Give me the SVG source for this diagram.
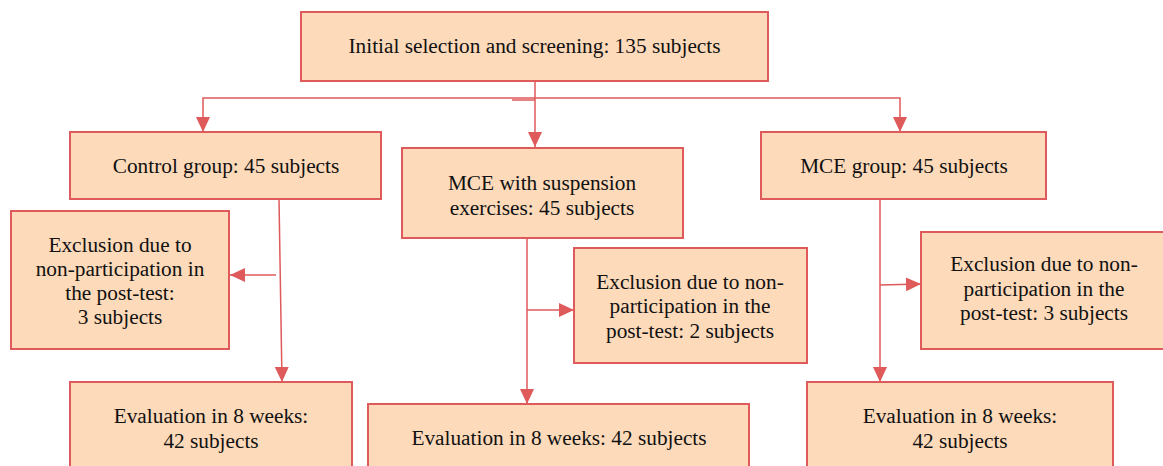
<svg xmlns="http://www.w3.org/2000/svg" width="1163" height="466" viewBox="0 0 1163 466">
<defs>
<marker id="ah" markerUnits="userSpaceOnUse" markerWidth="16" markerHeight="16" viewBox="0 0 16 16" refX="15" refY="8" orient="auto">
<path d="M0,1 L15,8 L0,15 Z" fill="#DF5A5B"/>
</marker>
</defs>
<rect width="1163" height="466" fill="#fff"/>
<g id="connectors" fill="none" stroke="#DF5A5B" stroke-width="1.5">
<path d="M535,81 V98 H203 V132" marker-end="url(#ah)"/>
<path d="M535,98 V147" marker-end="url(#ah)"/>
<path d="M535,98 H900 V132" marker-end="url(#ah)"/>
<path d="M512,100 H535"/>
<path d="M279,199 L282,382" marker-end="url(#ah)"/>
<path d="M276,275 H230" marker-end="url(#ah)"/>
<path d="M527,238 V404" marker-end="url(#ah)"/>
<path d="M527,310 H574" marker-end="url(#ah)"/>
<path d="M880,199 V382" marker-end="url(#ah)"/>
<path d="M880,285 L921,284" marker-end="url(#ah)"/>
</g>
<g id="nodes" fill="#FDDABA" stroke="#DF5A5B" stroke-width="2">
<g id="n-initial"><rect x="301" y="12" width="467" height="69"/></g>
<g id="n-control"><rect x="70" y="132" width="311" height="67"/></g>
<g id="n-mcesusp"><rect x="402" y="148" width="281" height="90"/></g>
<g id="n-mce"><rect x="761" y="132" width="285" height="67"/></g>
<g id="n-excl-left"><rect x="11" y="211" width="218" height="138"/></g>
<g id="n-excl-mid"><rect x="574" y="248" width="233" height="115"/></g>
<g id="n-excl-right"><rect x="921" y="232" width="245" height="117"/></g>
<g id="n-eval-left"><rect x="70" y="382" width="282" height="90"/></g>
<g id="n-eval-mid"><rect x="368" y="404" width="381" height="70"/></g>
<g id="n-eval-right"><rect x="807" y="382" width="306" height="90"/></g>
</g>
<g id="labels" font-family="Liberation Serif" font-size="21.3" text-anchor="middle" fill="#111">
<text font-family="Liberation Serif" x="534.5" y="53">Initial selection and screening: 135 subjects</text>
<text font-family="Liberation Serif" x="226" y="173">Control group: 45 subjects</text>
<text font-family="Liberation Serif" x="542" y="190">MCE with suspension</text>
<text font-family="Liberation Serif" x="542" y="215">exercises: 45 subjects</text>
<text font-family="Liberation Serif" x="904" y="173">MCE group: 45 subjects</text>
<text font-family="Liberation Serif" x="120" y="252">Exclusion due to</text>
<text font-family="Liberation Serif" x="120" y="276">non-participation in</text>
<text font-family="Liberation Serif" x="120" y="300">the post-test:</text>
<text font-family="Liberation Serif" x="120" y="324">3 subjects</text>
<text font-family="Liberation Serif" x="690" y="289">Exclusion due to non-</text>
<text font-family="Liberation Serif" x="690" y="313">participation in the</text>
<text font-family="Liberation Serif" x="690" y="338">post-test: 2 subjects</text>
<text font-family="Liberation Serif" x="1044" y="271">Exclusion due to non-</text>
<text font-family="Liberation Serif" x="1044" y="296">participation in the</text>
<text font-family="Liberation Serif" x="1044" y="320">post-test: 3 subjects</text>
<text font-family="Liberation Serif" x="211" y="423">Evaluation in 8 weeks:</text>
<text font-family="Liberation Serif" x="211" y="448">42 subjects</text>
<text font-family="Liberation Serif" x="559" y="445">Evaluation in 8 weeks: 42 subjects</text>
<text font-family="Liberation Serif" x="960" y="423">Evaluation in 8 weeks:</text>
<text font-family="Liberation Serif" x="960" y="448">42 subjects</text>
</g>
</svg>
